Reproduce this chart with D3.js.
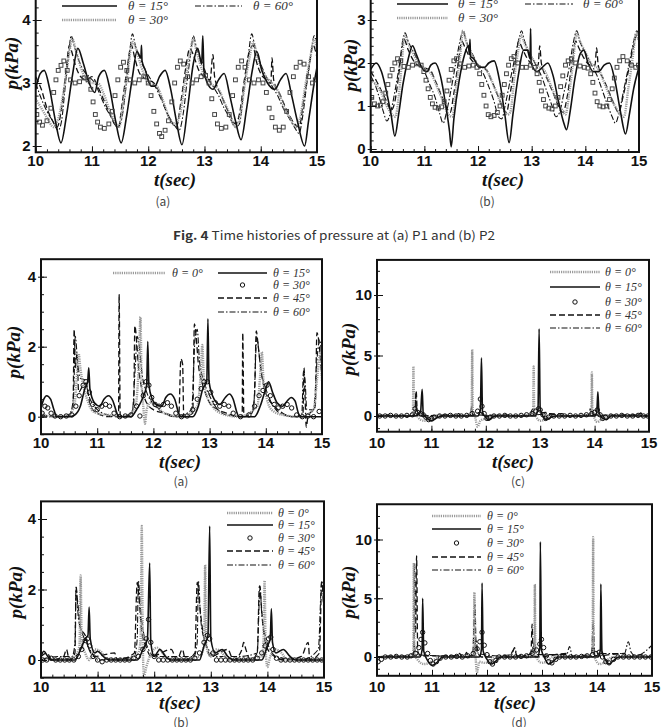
<!DOCTYPE html>
<html>
<head>
<meta charset="utf-8">
<script src="https://cdn.jsdelivr.net/npm/d3@7"></script>
<style>
  body { margin: 0; background: #fff; }
  svg { display: block; }
</style>
</head>
<body>
<svg width="669" height="727"></svg>
<script>
// ---------- data ----------

// Fig. 4 (a) pressure at P1
let p1_deg0 = [[10.02,2.5],[10.07,2.38],[10.12,2.33],[10.2,2.4],[10.27,2.6],[10.32,2.85],[10.36,3.05],[10.4,3.2],[10.45,3.28],[10.5,3.35],[10.56,3.2],[10.62,3.05],[10.7,3.0],[10.78,3.02],[10.86,3.08],[10.93,3.05],[10.98,2.9],[11.02,2.7],[11.06,2.5],[11.1,2.38],[11.15,2.3],[11.22,2.28],[11.3,2.35],[11.36,2.55],[11.41,2.8],[11.46,3.05],[11.51,3.25],[11.56,3.33],[11.62,3.2],[11.68,3.05],[11.76,3.0],[11.84,3.05],[11.92,3.1],[12.0,3.0],[12.05,2.8],[12.1,2.55],[12.15,2.35],[12.2,2.2],[12.24,2.15],[12.3,2.25],[12.36,2.4],[12.42,2.7],[12.47,3.0],[12.52,3.25],[12.57,3.35],[12.63,3.3],[12.7,3.1],[12.78,3.0],[12.86,3.05],[12.94,3.1],[13.02,3.12],[13.08,3.0],[13.13,2.75],[13.18,2.5],[13.23,2.35],[13.3,2.28],[13.38,2.3],[13.44,2.5],[13.5,2.8],[13.55,3.05],[13.6,3.25],[13.66,3.35],[13.72,3.25],[13.8,3.05],[13.88,3.0],[13.96,3.05],[14.04,3.0],[14.1,2.85],[14.15,2.6],[14.2,2.45],[14.26,2.3],[14.33,2.25],[14.4,2.3],[14.46,2.55],[14.52,2.85],[14.58,3.1],[14.63,3.25],[14.7,3.33],[14.77,3.3],[14.85,3.1],[14.92,3.0],[14.97,3.05]];
let p1_deg15 = [[10.0,2.9],[10.08,3.15],[10.15,3.2],[10.25,2.9],[10.35,2.4],[10.45,2.05],[10.55,2.5],[10.65,3.1],[10.75,3.55],[10.85,3.3],[10.95,3.0],[11.05,2.85],[11.12,3.1],[11.22,3.2],[11.32,2.9],[11.42,2.4],[11.52,2.05],[11.62,2.5],[11.72,3.1],[11.8,3.5],[11.87,3.4],[11.88,3.6],[11.89,3.35],[11.95,3.2],[12.05,2.95],[12.12,2.95],[12.2,3.1],[12.3,3.2],[12.4,2.9],[12.5,2.4],[12.6,2.02],[12.7,2.6],[12.8,3.3],[12.88,3.55],[12.95,3.3],[12.97,3.75],[12.99,3.2],[13.05,3.0],[13.15,2.9],[13.25,3.05],[13.35,3.15],[13.45,2.8],[13.55,2.4],[13.65,2.1],[13.75,2.6],[13.85,3.2],[13.93,3.5],[14.02,3.2],[14.12,3.0],[14.25,2.9],[14.35,3.05],[14.45,3.15],[14.55,2.8],[14.65,2.4],[14.78,2.0],[14.85,2.4],[14.95,3.0],[15.0,3.25]];
let p1_deg30 = [[10.0,2.75],[10.1,2.6],[10.2,2.45],[10.32,2.3],[10.42,2.5],[10.52,3.0],[10.6,3.5],[10.65,3.7],[10.72,3.5],[10.82,3.2],[10.95,3.0],[11.1,3.0],[11.2,2.85],[11.3,2.6],[11.4,2.4],[11.48,2.3],[11.56,2.7],[11.64,3.2],[11.72,3.65],[11.78,3.55],[11.88,3.25],[12.0,3.0],[12.15,2.95],[12.25,2.75],[12.35,2.5],[12.45,2.35],[12.55,2.45],[12.65,3.0],[12.74,3.45],[12.8,3.7],[12.86,3.5],[12.96,3.2],[13.1,3.0],[13.25,2.9],[13.35,2.7],[13.45,2.5],[13.55,2.3],[13.63,2.45],[13.72,3.0],[13.8,3.4],[13.87,3.65],[13.93,3.45],[14.05,3.15],[14.2,3.0],[14.32,2.85],[14.42,2.6],[14.52,2.45],[14.62,2.3],[14.7,2.45],[14.8,3.0],[14.88,3.4],[14.95,3.7],[15.0,3.5]];
let p1_deg45 = [[10.0,3.1],[10.1,2.9],[10.2,2.6],[10.3,2.4],[10.38,2.3],[10.46,2.6],[10.54,3.2],[10.6,3.6],[10.64,3.5],[10.7,3.3],[10.8,3.1],[10.9,3.05],[11.0,3.1],[11.1,2.95],[11.2,2.75],[11.3,2.55],[11.4,2.35],[11.47,2.3],[11.54,2.7],[11.62,3.2],[11.7,3.6],[11.76,3.4],[11.85,3.15],[12.0,3.05],[12.1,3.0],[12.2,2.85],[12.3,2.6],[12.4,2.4],[12.5,2.3],[12.58,2.7],[12.66,3.2],[12.74,3.55],[12.8,3.45],[12.9,3.2],[13.0,3.1],[13.1,3.05],[13.15,3.45],[13.18,3.1],[13.3,2.8],[13.45,2.5],[13.55,2.35],[13.62,2.5],[13.7,3.0],[13.8,3.5],[13.86,3.6],[13.92,3.35],[14.0,3.15],[14.1,3.05],[14.18,3.0],[14.2,3.4],[14.23,3.05],[14.35,2.8],[14.5,2.5],[14.6,2.35],[14.68,2.3],[14.76,2.7],[14.85,3.2],[14.93,3.6],[15.0,3.4]];
let p1_deg60 = [[10.0,3.0],[10.1,2.75],[10.2,2.55],[10.3,2.4],[10.4,2.25],[10.46,2.4],[10.52,2.9],[10.58,3.4],[10.63,3.75],[10.68,3.6],[10.75,3.4],[10.85,3.2],[10.95,3.1],[11.05,3.0],[11.15,2.8],[11.25,2.6],[11.35,2.45],[11.45,2.3],[11.52,2.4],[11.6,2.9],[11.66,3.4],[11.72,3.78],[11.77,3.6],[11.85,3.4],[11.95,3.2],[12.05,3.05],[12.15,2.9],[12.25,2.7],[12.35,2.5],[12.45,2.35],[12.55,2.25],[12.62,2.5],[12.7,3.1],[12.76,3.5],[12.8,3.75],[12.86,3.55],[12.95,3.35],[13.05,3.1],[13.15,2.95],[13.25,2.8],[13.35,2.6],[13.45,2.45],[13.55,2.3],[13.62,2.35],[13.7,2.9],[13.78,3.45],[13.84,3.78],[13.9,3.55],[14.0,3.3],[14.1,3.1],[14.2,2.95],[14.3,2.8],[14.4,2.6],[14.5,2.45],[14.6,2.3],[14.68,2.2],[14.75,2.5],[14.82,3.0],[14.9,3.5],[14.95,3.75],[15.0,3.6]];

// Fig. 4 (b) pressure at P2
let p2_deg0 = [[10.02,1.2],[10.07,1.05],[10.13,1.0],[10.18,1.02],[10.23,1.1],[10.28,1.3],[10.32,1.5],[10.36,1.7],[10.4,1.85],[10.45,2.0],[10.5,2.1],[10.56,2.05],[10.62,1.92],[10.7,1.9],[10.78,1.95],[10.86,1.98],[10.94,1.95],[10.99,1.8],[11.03,1.6],[11.07,1.4],[11.11,1.2],[11.15,1.05],[11.2,0.97],[11.26,0.95],[11.32,0.98],[11.37,1.1],[11.42,1.35],[11.46,1.6],[11.5,1.85],[11.55,2.05],[11.6,2.1],[11.67,1.98],[11.75,1.9],[11.83,1.93],[11.91,1.95],[11.98,1.9],[12.03,1.75],[12.07,1.5],[12.11,1.25],[12.15,1.0],[12.19,0.8],[12.24,0.75],[12.3,0.78],[12.36,0.85],[12.41,1.0],[12.45,1.25],[12.49,1.5],[12.53,1.75],[12.57,1.95],[12.62,2.1],[12.67,2.15],[12.74,2.0],[12.82,1.9],[12.9,1.9],[12.98,1.95],[13.05,1.9],[13.1,1.75],[13.14,1.55],[13.18,1.35],[13.22,1.15],[13.26,1.0],[13.32,0.95],[13.38,0.93],[13.44,1.0],[13.49,1.2],[13.54,1.45],[13.58,1.7],[13.63,1.95],[13.68,2.05],[13.74,2.1],[13.82,2.0],[13.9,1.93],[13.98,1.9],[14.05,1.88],[14.1,1.75],[14.14,1.55],[14.18,1.3],[14.22,1.1],[14.27,1.0],[14.33,0.98],[14.4,1.0],[14.45,1.15],[14.5,1.4],[14.54,1.65],[14.59,1.9],[14.64,2.05],[14.7,2.15],[14.78,2.05],[14.86,1.95],[14.94,1.9],[14.99,1.95]];
let p2_deg15 = [[10.0,1.85],[10.1,2.0],[10.2,1.8],[10.3,1.3],[10.38,0.8],[10.45,0.3],[10.52,0.8],[10.6,1.5],[10.7,2.1],[10.78,2.4],[10.85,2.2],[10.95,1.9],[11.05,1.8],[11.12,1.95],[11.2,2.0],[11.3,1.7],[11.4,1.0],[11.47,0.4],[11.5,0.05],[11.55,0.7],[11.65,1.6],[11.75,2.2],[11.82,2.4],[11.84,2.2],[11.85,2.55],[11.86,2.15],[11.92,2.1],[12.02,1.9],[12.12,1.9],[12.2,2.0],[12.3,2.05],[12.4,1.6],[12.5,0.8],[12.58,0.15],[12.65,0.8],[12.75,1.7],[12.85,2.3],[12.92,2.3],[12.97,2.1],[12.98,2.8],[12.99,2.0],[13.1,1.8],[13.2,1.9],[13.3,2.0],[13.4,1.7],[13.5,1.1],[13.6,0.6],[13.65,0.45],[13.72,0.9],[13.8,1.6],[13.9,2.2],[13.97,2.3],[14.05,2.0],[14.15,1.8],[14.25,1.8],[14.35,1.95],[14.45,2.0],[14.55,1.6],[14.65,0.9],[14.75,0.35],[14.82,0.8],[14.9,1.4],[15.0,1.9]];
let p2_deg30 = [[10.0,1.6],[10.1,1.5],[10.2,1.3],[10.3,1.0],[10.4,0.8],[10.46,0.75],[10.52,1.2],[10.58,2.0],[10.63,2.65],[10.7,2.45],[10.8,2.2],[10.92,1.95],[11.05,1.85],[11.15,1.7],[11.25,1.4],[11.35,1.1],[11.45,0.8],[11.52,0.75],[11.6,1.5],[11.67,2.2],[11.72,2.75],[11.78,2.5],[11.88,2.2],[12.0,1.95],[12.15,1.85],[12.25,1.6],[12.35,1.3],[12.45,1.0],[12.55,0.8],[12.6,0.85],[12.68,1.7],[12.75,2.3],[12.8,2.65],[12.87,2.45],[12.97,2.2],[13.1,1.95],[13.25,1.8],[13.35,1.5],[13.45,1.2],[13.55,0.95],[13.63,0.8],[13.7,1.3],[13.77,2.0],[13.84,2.7],[13.9,2.5],[14.0,2.25],[14.1,2.0],[14.25,1.85],[14.35,1.55],[14.45,1.25],[14.55,1.0],[14.65,0.8],[14.72,0.75],[14.8,1.4],[14.88,2.1],[14.95,2.7],[15.0,2.5]];
let p2_deg45 = [[10.0,1.8],[10.1,1.6],[10.2,1.35],[10.3,1.1],[10.38,0.9],[10.45,1.1],[10.52,1.7],[10.58,2.3],[10.62,2.55],[10.7,2.3],[10.8,2.05],[10.95,1.9],[11.1,1.85],[11.2,1.6],[11.3,1.3],[11.4,1.0],[11.48,0.85],[11.55,1.3],[11.63,2.0],[11.7,2.5],[11.76,2.35],[11.86,2.1],[12.0,1.95],[12.15,1.85],[12.25,1.6],[12.35,1.3],[12.45,1.0],[12.53,0.85],[12.6,1.3],[12.68,1.9],[12.76,2.5],[12.82,2.35],[12.92,2.1],[13.05,1.95],[13.12,1.95],[13.15,2.4],[13.18,2.0],[13.3,1.6],[13.4,1.3],[13.5,1.0],[13.58,0.85],[13.66,1.2],[13.74,1.9],[13.82,2.5],[13.88,2.35],[13.98,2.1],[14.1,1.95],[14.18,1.95],[14.21,2.35],[14.24,1.95],[14.35,1.6],[14.45,1.3],[14.55,1.0],[14.62,0.85],[14.7,1.2],[14.8,1.8],[14.9,2.4],[14.96,2.65],[15.0,2.5]];
let p2_deg60 = [[10.0,1.7],[10.08,1.5],[10.16,1.2],[10.24,0.85],[10.3,0.65],[10.38,0.9],[10.46,1.4],[10.54,2.0],[10.6,2.55],[10.64,2.7],[10.7,2.5],[10.8,2.25],[10.9,2.0],[11.0,1.8],[11.1,1.5],[11.2,1.2],[11.28,0.85],[11.35,0.6],[11.42,0.9],[11.5,1.4],[11.6,2.1],[11.68,2.6],[11.72,2.75],[11.78,2.5],[11.88,2.25],[12.0,1.95],[12.1,1.75],[12.2,1.45],[12.3,1.1],[12.38,0.75],[12.44,0.7],[12.52,1.1],[12.6,1.6],[12.7,2.2],[12.77,2.6],[12.81,2.75],[12.87,2.5],[12.97,2.2],[13.08,1.95],[13.18,1.7],[13.28,1.35],[13.38,1.0],[13.45,0.75],[13.52,0.85],[13.6,1.3],[13.7,1.9],[13.78,2.5],[13.84,2.75],[13.9,2.5],[14.0,2.25],[14.12,1.95],[14.22,1.7],[14.32,1.35],[14.42,1.0],[14.5,0.75],[14.56,0.6],[14.63,0.85],[14.72,1.4],[14.82,2.0],[14.9,2.5],[14.96,2.75],[15.0,2.6]];

// lower figure (a)
let qa_deg0 = [[10.0,0.1],[10.2,0.0],[10.5,0.05],[10.6,0.4],[10.64,1.2],[10.67,1.8],[10.7,1.4],[10.75,0.9],[10.82,0.5],[10.9,0.2],[11.0,0.1],[11.2,0.05],[11.5,0.0],[11.68,0.3],[11.74,1.5],[11.77,2.85],[11.79,1.0],[11.82,0.3],[11.85,-0.2],[11.88,0.2],[11.95,0.4],[12.05,0.3],[12.2,0.1],[12.5,0.0],[12.78,0.3],[12.84,1.2],[12.87,2.05],[12.9,1.0],[12.95,0.6],[13.05,0.3],[13.2,0.1],[13.5,0.0],[13.85,0.3],[13.9,1.2],[13.93,1.85],[13.96,1.0],[14.02,0.5],[14.1,0.2],[14.3,0.05],[14.6,0.0],[14.85,0.2],[14.92,1.2],[14.97,1.8],[15.0,1.0]];
let qa_deg15 = [[10.0,0.25],[10.05,0.5],[10.1,0.6],[10.17,0.5],[10.23,0.2],[10.28,0.0],[10.5,0.0],[10.6,0.05],[10.7,0.3],[10.78,0.8],[10.83,1.0],[10.85,1.4],[10.87,0.8],[10.95,0.4],[11.05,0.3],[11.12,0.5],[11.2,0.6],[11.28,0.45],[11.34,0.15],[11.38,0.0],[11.6,0.0],[11.7,0.2],[11.8,0.5],[11.88,0.9],[11.9,2.15],[11.92,0.9],[11.98,0.5],[12.05,0.35],[12.15,0.3],[12.22,0.55],[12.3,0.65],[12.38,0.5],[12.44,0.15],[12.48,0.0],[12.7,0.0],[12.8,0.3],[12.88,0.8],[12.95,1.0],[12.97,2.8],[12.99,1.0],[13.08,0.5],[13.18,0.35],[13.28,0.55],[13.35,0.65],[13.42,0.5],[13.48,0.15],[13.52,0.0],[13.8,0.0],[13.9,0.3],[14.0,0.8],[14.05,1.0],[14.12,0.7],[14.2,0.4],[14.3,0.3],[14.38,0.45],[14.45,0.55],[14.52,0.45],[14.58,0.1],[14.62,0.0],[15.0,0.0]];
let qa_deg30 = [[10.02,0.1],[10.07,0.3],[10.12,0.25],[10.18,0.1],[10.25,0.02],[10.35,0.0],[10.45,0.02],[10.55,0.05],[10.62,0.3],[10.68,0.6],[10.75,0.9],[10.8,1.0],[10.86,0.7],[10.92,0.35],[11.0,0.2],[11.08,0.3],[11.15,0.35],[11.22,0.3],[11.3,0.1],[11.4,0.0],[11.5,0.02],[11.6,0.05],[11.7,0.3],[11.76,0.02],[11.82,0.6],[11.87,1.0],[11.92,0.9],[11.97,0.55],[12.03,0.35],[12.1,0.3],[12.18,0.35],[12.25,0.4],[12.32,0.3],[12.4,0.1],[12.5,0.0],[12.6,0.02],[12.7,0.2],[12.78,0.5],[12.85,0.8],[12.9,1.0],[12.96,1.0],[13.02,0.7],[13.1,0.4],[13.18,0.3],[13.26,0.35],[13.34,0.3],[13.42,0.1],[13.55,0.0],[13.7,0.05],[13.8,0.3],[13.88,0.6],[13.95,0.75],[14.02,0.9],[14.08,0.6],[14.15,0.35],[14.22,0.25],[14.3,0.3],[14.38,0.35],[14.46,0.25],[14.55,0.05],[14.65,0.0],[14.75,0.02],[14.85,0.0],[14.95,0.15]];
let qa_deg45 = [[10.0,0.05],[10.3,0.0],[10.5,0.05],[10.57,0.3],[10.59,2.5],[10.61,1.4],[10.64,1.8],[10.67,0.7],[10.75,0.9],[10.8,0.95],[10.88,0.3],[11.0,0.1],[11.2,0.0],[11.38,0.0],[11.39,3.5],[11.41,0.0],[11.6,0.05],[11.65,0.4],[11.67,2.6],[11.7,2.2],[11.73,1.5],[11.78,0.9],[11.85,0.5],[11.92,0.3],[12.0,0.2],[12.2,0.1],[12.45,0.0],[12.49,1.65],[12.52,1.5],[12.54,0.0],[12.7,0.1],[12.73,2.65],[12.76,2.3],[12.8,1.5],[12.86,1.0],[12.92,0.7],[13.0,0.4],[13.15,0.2],[13.3,0.1],[13.5,0.0],[13.58,0.0],[13.59,2.4],[13.61,0.0],[13.75,0.1],[13.8,0.6],[13.83,2.45],[13.86,2.1],[13.9,1.5],[13.96,0.9],[14.05,0.5],[14.15,0.3],[14.3,0.1],[14.5,0.0],[14.66,0.0],[14.68,1.4],[14.7,0.5],[14.72,-0.3],[14.75,0.0],[14.88,0.3],[14.91,2.4],[14.94,2.2],[14.97,1.7],[15.0,1.0]];
let qa_deg60 = [[10.0,0.0],[10.4,0.0],[10.52,0.1],[10.58,0.6],[10.61,2.3],[10.65,1.6],[10.7,1.1],[10.78,1.05],[10.85,0.6],[10.95,0.3],[11.1,0.1],[11.4,0.0],[11.62,0.1],[11.68,1.5],[11.71,2.3],[11.75,2.0],[11.8,1.2],[11.88,0.7],[11.98,0.4],[12.1,0.2],[12.4,0.0],[12.68,0.2],[12.74,2.2],[12.78,2.5],[12.82,1.6],[12.9,1.0],[13.0,0.6],[13.1,0.3],[13.3,0.05],[13.6,0.0],[13.78,0.2],[13.84,2.3],[13.88,1.8],[13.93,1.2],[14.0,0.8],[14.1,0.4],[14.25,0.1],[14.5,0.0],[14.64,0.05],[14.67,1.3],[14.7,1.0],[14.73,0.2],[14.85,0.2],[14.92,1.8],[14.96,2.2],[15.0,1.6]];

// lower figure (c)
let qc_deg0 = [[10.0,0.0],[10.3,0.0],[10.6,0.05],[10.66,0.3],[10.67,4.1],[10.68,0.3],[10.72,0.1],[10.8,-0.3],[10.9,-0.4],[10.98,-0.2],[11.1,0.0],[11.5,0.0],[11.7,0.1],[11.74,0.6],[11.75,5.5],[11.76,0.5],[11.8,0.0],[11.85,-0.9],[11.9,-0.4],[12.0,-0.2],[12.1,0.0],[12.5,0.0],[12.8,0.1],[12.87,0.3],[12.88,4.1],[12.89,0.3],[12.93,-0.1],[13.0,-0.4],[13.08,-0.3],[13.2,0.0],[13.6,0.0],[13.9,0.1],[13.94,0.4],[13.95,3.6],[13.96,0.4],[14.0,-0.2],[14.05,-0.5],[14.12,-0.3],[14.25,0.0],[15.0,0.0]];
let qc_deg15 = [[10.0,0.0],[10.7,0.0],[10.8,0.3],[10.83,2.2],[10.85,0.2],[10.92,-0.2],[11.0,-0.4],[11.08,-0.2],[11.2,0.0],[11.85,0.0],[11.9,0.5],[11.92,4.8],[11.94,0.3],[12.0,-0.1],[12.05,-0.35],[12.12,-0.1],[12.2,0.0],[12.9,0.0],[12.96,0.6],[12.98,7.2],[13.0,0.6],[13.06,-0.1],[13.12,-0.3],[13.2,-0.1],[13.3,0.0],[14.0,0.0],[14.04,0.3],[14.06,2.0],[14.08,0.3],[14.15,-0.2],[14.22,-0.3],[14.3,0.0],[15.0,0.0]];
let qc_deg30 = [[10.05,0.0],[10.15,0.0],[10.25,0.05],[10.35,0.0],[10.45,0.0],[10.55,0.05],[10.65,0.1],[10.7,0.6],[10.75,0.3],[10.8,0.2],[10.85,0.1],[10.9,-0.1],[10.95,-0.3],[11.0,-0.2],[11.05,-0.1],[11.15,0.0],[11.25,0.0],[11.35,0.05],[11.45,0.0],[11.55,0.0],[11.65,0.05],[11.75,0.2],[11.85,0.4],[11.9,1.4],[11.93,0.8],[11.97,0.2],[12.02,-0.2],[12.08,-0.1],[12.15,0.0],[12.25,0.0],[12.35,0.05],[12.45,0.0],[12.55,0.0],[12.65,0.05],[12.75,0.1],[12.85,0.2],[12.92,0.4],[12.97,0.6],[13.0,0.5],[13.05,0.1],[13.1,-0.2],[13.15,-0.1],[13.25,0.0],[13.35,0.0],[13.45,0.0],[13.55,0.05],[13.65,0.0],[13.75,0.05],[13.85,0.1],[13.95,0.2],[14.0,0.3],[14.05,0.5],[14.1,0.1],[14.15,-0.2],[14.2,-0.1],[14.3,0.0],[14.4,0.0],[14.5,0.05],[14.6,0.0],[14.7,0.0],[14.8,0.05],[14.9,0.0],[14.98,0.0]];
let qc_deg45 = [[10.0,0.0],[10.2,0.1],[10.3,0.0],[10.65,0.0],[10.7,0.3],[10.72,2.1],[10.74,0.4],[10.8,0.0],[11.4,0.05],[11.5,0.2],[11.55,0.0],[11.72,0.1],[11.74,0.8],[11.76,0.1],[11.9,0.3],[12.0,0.0],[12.4,0.1],[12.5,0.0],[12.82,0.1],[12.85,0.5],[12.88,0.1],[13.1,0.3],[13.2,0.1],[13.4,0.2],[13.5,0.0],[13.9,0.1],[13.92,0.6],[13.95,0.1],[14.5,0.05],[14.8,0.1],[14.85,0.25],[14.9,0.0],[15.0,0.0]];
let qc_deg60 = [[10.0,0.0],[10.4,0.05],[10.6,0.0],[10.7,0.2],[10.71,1.8],[10.73,0.3],[10.8,0.0],[11.3,0.1],[11.6,0.0],[11.72,0.1],[11.74,0.6],[11.76,0.1],[12.2,0.05],[12.6,0.0],[12.84,0.1],[12.86,0.6],[12.9,0.1],[13.2,0.2],[13.4,0.0],[13.92,0.1],[13.94,0.5],[13.97,0.0],[14.6,0.1],[15.0,0.0]];

// lower figure (b)
let qb_deg0 = [[10.0,0.05],[10.3,0.0],[10.6,0.1],[10.68,0.4],[10.7,2.4],[10.72,0.5],[10.78,0.2],[10.85,0.0],[10.95,0.3],[11.05,0.25],[11.15,0.05],[11.5,0.0],[11.72,0.2],[11.76,0.6],[11.78,3.8],[11.8,0.3],[11.82,-0.45],[11.86,-0.2],[11.95,0.2],[12.05,0.35],[12.15,0.2],[12.3,0.0],[12.8,0.1],[12.88,0.4],[12.9,2.7],[12.92,0.4],[13.0,0.1],[13.1,0.3],[13.2,0.2],[13.3,0.0],[13.9,0.1],[13.93,0.5],[13.95,2.25],[13.97,0.3],[14.0,-0.2],[14.05,0.1],[14.15,0.3],[14.25,0.2],[14.35,0.0],[15.0,0.0]];
let qb_deg15 = [[10.0,0.1],[10.05,0.25],[10.12,0.1],[10.2,0.0],[10.6,0.0],[10.7,0.3],[10.78,0.6],[10.83,0.7],[10.85,1.5],[10.87,0.6],[10.95,0.2],[11.0,0.25],[11.1,0.1],[11.2,0.0],[11.7,0.0],[11.8,0.3],[11.88,0.6],[11.92,2.75],[11.94,0.5],[12.0,0.1],[12.1,0.3],[12.2,0.1],[12.3,0.0],[12.8,0.0],[12.88,0.4],[12.95,0.7],[12.98,3.8],[13.0,0.6],[13.08,0.2],[13.2,0.3],[13.3,0.1],[13.4,0.0],[13.9,0.0],[14.0,0.4],[14.05,0.6],[14.07,1.45],[14.09,0.5],[14.15,0.2],[14.28,0.3],[14.4,0.1],[14.5,0.0],[15.0,0.0]];
let qb_deg30 = [[10.03,0.0],[10.1,0.0],[10.18,0.05],[10.26,0.0],[10.34,0.0],[10.42,0.0],[10.5,0.0],[10.58,0.0],[10.66,0.1],[10.72,0.3],[10.78,0.55],[10.82,0.6],[10.86,0.4],[10.92,0.1],[11.0,0.0],[11.08,-0.05],[11.16,0.0],[11.24,0.0],[11.32,0.0],[11.4,0.0],[11.48,0.0],[11.56,0.0],[11.64,0.05],[11.72,0.1],[11.8,0.3],[11.86,0.6],[11.9,1.15],[11.94,0.5],[12.0,0.1],[12.08,0.0],[12.16,0.0],[12.24,0.0],[12.32,0.0],[12.4,0.0],[12.48,0.0],[12.56,0.0],[12.64,0.0],[12.72,0.05],[12.8,0.2],[12.88,0.5],[12.94,0.7],[12.98,0.6],[13.04,0.2],[13.1,0.0],[13.18,0.0],[13.26,0.0],[13.34,0.0],[13.42,0.0],[13.5,0.0],[13.58,0.0],[13.66,0.0],[13.74,0.0],[13.82,0.05],[13.9,0.2],[13.96,0.4],[14.02,0.6],[14.06,0.65],[14.1,0.3],[14.16,0.05],[14.24,0.0],[14.32,0.0],[14.4,0.0],[14.48,0.0],[14.56,0.0],[14.64,0.0],[14.72,0.0],[14.8,0.0],[14.88,0.0],[14.96,0.0]];
let qb_deg45 = [[10.0,0.1],[10.1,0.2],[10.2,0.0],[10.4,0.1],[10.45,0.3],[10.5,0.0],[10.6,0.2],[10.62,2.0],[10.65,1.6],[10.7,0.9],[10.78,0.7],[10.85,0.3],[10.95,0.1],[11.3,0.2],[11.35,0.0],[11.65,0.2],[11.7,2.2],[11.73,1.8],[11.78,0.8],[11.85,0.4],[11.95,0.1],[12.3,0.3],[12.4,0.0],[12.5,0.3],[12.55,0.0],[12.72,0.2],[12.76,2.2],[12.8,1.6],[12.86,0.8],[12.92,0.4],[13.0,0.1],[13.3,0.3],[13.4,0.0],[13.55,0.3],[13.58,0.5],[13.62,0.3],[13.7,0.0],[13.82,0.2],[13.86,2.1],[13.9,1.4],[13.95,0.6],[14.05,0.2],[14.3,0.0],[14.6,0.1],[14.72,0.5],[14.75,0.0],[14.92,0.2],[14.96,2.2],[15.0,1.4]];
let qb_deg60 = [[10.0,0.0],[10.3,0.1],[10.55,0.1],[10.6,0.5],[10.62,2.1],[10.66,1.2],[10.72,0.8],[10.8,0.5],[10.9,0.2],[11.0,0.0],[11.65,0.1],[11.7,0.6],[11.72,2.25],[11.76,1.4],[11.82,0.7],[11.9,0.3],[12.0,0.1],[12.7,0.1],[12.76,0.5],[12.78,2.25],[12.82,1.2],[12.88,0.6],[12.96,0.3],[13.05,0.1],[13.5,0.1],[13.82,0.2],[13.87,2.1],[13.9,1.3],[13.96,0.7],[14.05,0.3],[14.15,0.1],[14.6,0.0],[14.9,0.3],[14.96,2.25],[15.0,1.2]];

// lower figure (d)
let qd_deg0 = [[10.0,-0.3],[10.1,0.0],[10.6,0.0],[10.66,0.3],[10.67,8.0],[10.68,0.3],[10.75,-0.3],[10.85,-0.6],[10.95,-0.5],[11.05,-0.2],[11.15,0.0],[11.7,0.0],[11.76,0.5],[11.77,5.5],[11.79,0.3],[11.82,-1.3],[11.86,-0.4],[11.95,-0.5],[12.05,-0.4],[12.15,0.0],[12.8,0.0],[12.86,0.5],[12.87,6.2],[12.88,0.4],[12.92,-0.2],[13.0,-0.5],[13.08,-0.4],[13.2,0.0],[13.85,0.0],[13.92,0.5],[13.93,10.2],[13.94,0.5],[13.98,-0.3],[14.05,-0.6],[14.12,-0.5],[14.2,-0.2],[14.3,0.0],[15.0,0.0]];
let qd_deg15 = [[10.0,0.0],[10.78,0.0],[10.82,0.6],[10.83,5.0],[10.85,0.5],[10.92,-0.3],[11.0,-0.7],[11.08,-0.5],[11.2,0.0],[11.86,0.0],[11.9,0.7],[11.91,6.3],[11.93,0.5],[12.0,-0.2],[12.08,-0.6],[12.15,-0.4],[12.25,0.0],[12.92,0.0],[12.96,0.8],[12.97,9.8],[12.99,0.6],[13.05,-0.1],[13.12,-0.6],[13.2,-0.4],[13.3,0.0],[14.02,0.0],[14.06,0.6],[14.07,6.2],[14.09,0.5],[14.15,-0.2],[14.22,-0.6],[14.3,-0.3],[14.4,0.0],[15.0,0.0]];
let qd_deg30 = [[10.02,-0.4],[10.08,-0.2],[10.15,0.0],[10.25,0.0],[10.35,0.05],[10.45,0.0],[10.55,0.0],[10.62,0.1],[10.7,0.3],[10.76,0.8],[10.8,1.5],[10.83,2.1],[10.87,1.2],[10.92,0.3],[10.97,-0.3],[11.02,-0.6],[11.08,-0.4],[11.15,-0.1],[11.25,0.0],[11.35,0.0],[11.45,0.05],[11.55,0.0],[11.65,0.1],[11.75,0.3],[11.82,0.7],[11.87,1.3],[11.91,2.1],[11.95,1.0],[12.0,0.2],[12.05,-0.4],[12.1,-0.6],[12.16,-0.3],[12.22,0.0],[12.32,0.0],[12.42,0.0],[12.52,0.0],[12.62,0.05],[12.72,0.1],[12.82,0.3],[12.9,0.6],[12.96,1.1],[12.99,1.5],[13.03,0.8],[13.08,0.1],[13.12,-0.4],[13.18,-0.5],[13.25,-0.2],[13.32,0.0],[13.42,0.0],[13.52,0.0],[13.62,0.0],[13.72,0.05],[13.82,0.1],[13.92,0.2],[13.98,0.3],[14.04,0.4],[14.1,0.0],[14.16,-0.4],[14.22,-0.5],[14.3,-0.2],[14.38,0.0],[14.48,0.0],[14.58,0.0],[14.68,0.0],[14.78,0.0],[14.88,0.0],[14.98,0.0]];
let qd_deg45 = [[10.0,0.0],[10.3,0.1],[10.6,0.0],[10.67,0.3],[10.68,7.9],[10.7,2.0],[10.72,8.6],[10.74,0.5],[10.8,0.1],[11.4,0.1],[11.5,0.3],[11.55,0.0],[11.74,0.2],[11.78,4.5],[11.8,1.0],[11.84,0.3],[11.9,0.0],[12.4,0.0],[12.5,0.7],[12.55,0.0],[12.8,0.3],[12.82,2.8],[12.84,0.3],[12.9,0.0],[13.45,0.3],[13.5,0.0],[13.9,0.1],[13.93,1.0],[13.96,0.1],[14.5,0.3],[14.55,0.0],[14.8,0.2],[14.9,0.0],[15.0,0.1]];
let qd_deg60 = [[10.0,0.0],[10.5,0.1],[10.66,0.3],[10.68,1.0],[10.7,0.2],[11.2,0.1],[11.6,0.2],[11.63,0.4],[11.66,0.0],[11.76,0.3],[11.8,1.5],[11.84,0.3],[12.2,0.1],[12.45,0.2],[12.5,0.8],[12.55,0.1],[12.84,0.3],[12.86,1.4],[12.9,0.2],[13.45,0.2],[13.5,0.9],[13.55,0.1],[13.9,0.2],[13.93,3.0],[13.96,0.3],[14.5,0.3],[14.57,1.3],[14.62,0.4],[14.7,0.1],[15.0,1.0]];

// axis ticks
let xTicks = [10, 11, 12, 13, 14, 15];

// ---------- drawing ----------
let svg = d3.select('svg');

// line styles for each kind of series
let styles = {
    gray:   { stroke: '#9a9a9a', width: 2.4, dash: '1.2,1' },
    solid:  { stroke: '#111', width: 1.6, dash: null },
    dashed: { stroke: '#111', width: 1.3, dash: '6,3' },
    dashdot:{ stroke: '#111', width: 1.1, dash: '6,2,1.5,2' },
    circle: { marker: 'circle' },
    square: { marker: 'square' }
};

let panels = [
    { x0: 35.7, x1: 317, yDom: [2, 4], yRng: [146, 20], yMin: 1.9, yMax: 4.7,
      yTicks: [2, 3, 4], yMinor: 0.2, legSize: 13,
      series: [[p1_deg60, 'dashdot'], [p1_deg45, 'dashed'], [p1_deg30, 'gray'], [p1_deg15, 'solid'], [p1_deg0, 'square']],
      tickY: 161, titleX: 175, titleY: 180, ylabX: 12, ylabY: 63, tag: '(a)', tagX: 163, tagY: 202,
      legend: [{ x1: 62, x2: 117, tx: 128, y: 6, st: 'solid', a: '15' }, { x1: 195, x2: 242, tx: 253, y: 6, st: 'dashdot', a: '60' },
               { x1: 62, x2: 117, tx: 128, y: 20, st: 'gray', a: '30' }] },
    { x0: 370.7, x1: 639, yDom: [0, 3], yRng: [149, 20], yMin: -0.07, yMax: 3.6,
      yTicks: [0, 1, 2, 3], yMinor: 0.2, legSize: 13,
      series: [[p2_deg60, 'dashdot'], [p2_deg45, 'dashed'], [p2_deg30, 'gray'], [p2_deg15, 'solid'], [p2_deg0, 'square']],
      tickY: 161, titleX: 503, titleY: 180, ylabX: 351, ylabY: 65, tag: '(b)', tagX: 487, tagY: 202,
      legend: [{ x1: 397, x2: 448, tx: 458, y: 4, st: 'solid', a: '15' }, { x1: 525, x2: 573, tx: 583, y: 4, st: 'dashdot', a: '60' },
               { x1: 397, x2: 448, tx: 458, y: 18, st: 'gray', a: '30' }] },
    { x0: 41, x1: 322, yDom: [0, 4], yRng: [416.7, 276.7], yMin: -0.5, yMax: 4.5,
      yTicks: [0, 2, 4], yMinor: 0.5, legSize: 12,
      series: [[qa_deg60, 'dashdot'], [qa_deg45, 'dashed'], [qa_deg0, 'gray'], [qa_deg15, 'solid'], [qa_deg30, 'circle']],
      tickY: 443, titleX: 180, titleY: 462, ylabX: 14, ylabY: 352, tag: '(a)', tagX: 181, tagY: 482,
      legend: [{ x1: 113, x2: 165, tx: 172, y: 273, st: 'gray', a: '0' }, { x1: 218, x2: 267, tx: 273, y: 273, st: 'solid', a: '15' },
               { x1: 218, x2: 267, tx: 273, y: 285, st: 'circle', a: '30' }, { x1: 218, x2: 267, tx: 273, y: 298, st: 'dashed', a: '45' },
               { x1: 218, x2: 267, tx: 273, y: 312, st: 'dashdot', a: '60' }] },
    { x0: 377, x1: 649, yDom: [0, 10], yRng: [416, 295], yMin: -1.3, yMax: 12.9,
      yTicks: [0, 5, 10], yMinor: 1, legSize: 12,
      series: [[qc_deg60, 'dashdot'], [qc_deg45, 'dashed'], [qc_deg0, 'gray'], [qc_deg15, 'solid'], [qc_deg30, 'circle']],
      tickY: 443, titleX: 513, titleY: 462, ylabX: 349, ylabY: 349, tag: '(c)', tagX: 518, tagY: 482,
      legend: [{ x1: 550, x2: 600, tx: 605, y: 272, st: 'gray', a: '0' }, { x1: 550, x2: 600, tx: 605, y: 287, st: 'solid', a: '15' },
               { x1: 550, x2: 600, tx: 605, y: 302, st: 'circle', a: '30' }, { x1: 550, x2: 600, tx: 605, y: 315, st: 'dashed', a: '45' },
               { x1: 550, x2: 600, tx: 605, y: 328, st: 'dashdot', a: '60' }] },
    { x0: 41, x1: 324, yDom: [0, 4], yRng: [660, 519], yMin: -0.5, yMax: 4.5,
      yTicks: [0, 2, 4], yMinor: 0.5, legSize: 12,
      series: [[qb_deg60, 'dashdot'], [qb_deg45, 'dashed'], [qb_deg0, 'gray'], [qb_deg15, 'solid'], [qb_deg30, 'circle']],
      tickY: 687, titleX: 180, titleY: 703, ylabX: 16, ylabY: 592, tag: '(b)', tagX: 181, tagY: 723,
      legend: [{ x1: 227, x2: 273, tx: 278, y: 513, st: 'gray', a: '0' }, { x1: 227, x2: 273, tx: 278, y: 525, st: 'solid', a: '15' },
               { x1: 227, x2: 273, tx: 278, y: 538, st: 'circle', a: '30' }, { x1: 227, x2: 273, tx: 278, y: 551, st: 'dashed', a: '45' },
               { x1: 227, x2: 273, tx: 278, y: 565, st: 'dashdot', a: '60' }] },
    { x0: 377, x1: 652, yDom: [0, 10], yRng: [657, 539.5], yMin: -1.6, yMax: 13,
      yTicks: [0, 5, 10], yMinor: 1, legSize: 12,
      series: [[qd_deg60, 'dashdot'], [qd_deg45, 'dashed'], [qd_deg0, 'gray'], [qd_deg15, 'solid'], [qd_deg30, 'circle']],
      tickY: 687, titleX: 515, titleY: 703, ylabX: 349, ylabY: 592, tag: '(d)', tagX: 519, tagY: 723,
      legend: [{ x1: 432, x2: 481, tx: 487, y: 516, st: 'gray', a: '0' }, { x1: 432, x2: 481, tx: 487, y: 529, st: 'solid', a: '15' },
               { x1: 432, x2: 481, tx: 487, y: 543, st: 'circle', a: '30' }, { x1: 432, x2: 481, tx: 487, y: 557, st: 'dashed', a: '45' },
               { x1: 432, x2: 481, tx: 487, y: 570, st: 'dashdot', a: '60' }] }
];

function styleLine(sel, st) {
    sel.attr('fill', 'none')
        .attr('stroke', st.stroke)
        .attr('stroke-width', st.width)
        .attr('stroke-dasharray', st.dash);
}

function drawMarker(g, kind, cx, cy) {
    if (kind === 'circle') {
        g.append('circle').attr('cx', cx).attr('cy', cy).attr('r', 2.2)
            .attr('fill', 'none').attr('stroke', '#111').attr('stroke-width', 1);
    } else {
        g.append('rect').attr('x', cx - 1.9).attr('y', cy - 1.9).attr('width', 3.8).attr('height', 3.8)
            .attr('fill', 'none').attr('stroke', '#444').attr('stroke-width', 1);
    }
}

panels.forEach((p, i) => {
    let x = d3.scaleLinear().domain([10, 15]).range([p.x0, p.x1]);
    let y = d3.scaleLinear().domain(p.yDom).range(p.yRng);
    let top = y(p.yMax), bottom = y(p.yMin);
    let g = svg.append('g');

    // clip to frame
    g.append('clipPath').attr('id', 'clip' + i)
        .append('rect').attr('x', p.x0).attr('y', top).attr('width', p.x1 - p.x0).attr('height', bottom - top);
    let plot = g.append('g').attr('clip-path', 'url(#clip' + i + ')');

    let line = d3.line().x(d => x(d[0])).y(d => y(d[1])).curve(d3.curveMonotoneX);

    p.series.forEach(([data, key]) => {
        let st = styles[key];
        if (st.marker) {
            data.forEach(d => drawMarker(plot, st.marker, x(d[0]), y(d[1])));
        } else {
            plot.append('path').datum(data).attr('d', line).call(styleLine, st);
        }
    });

    // minor ticks
    let xMinor = d3.range(10, 15.001, 0.2);
    g.append('g').attr('transform', 'translate(0,' + bottom + ')')
        .call(d3.axisBottom(x).tickValues(xMinor).tickSize(-3).tickFormat(''))
        .call(a => a.select('.domain').remove());
    let yMinor = d3.range(Math.ceil(p.yMin / p.yMinor) * p.yMinor, p.yMax, p.yMinor);
    g.append('g').attr('transform', 'translate(' + p.x0 + ',0)')
        .call(d3.axisLeft(y).tickValues(yMinor).tickSize(-3).tickFormat(''))
        .call(a => a.select('.domain').remove());

    // major ticks inward
    g.append('g').attr('transform', 'translate(0,' + bottom + ')')
        .call(d3.axisBottom(x).tickValues(xTicks).tickSize(-6).tickFormat(''))
        .call(a => a.select('.domain').remove());
    g.append('g').attr('transform', 'translate(' + p.x0 + ',0)')
        .call(d3.axisLeft(y).tickValues(p.yTicks).tickSize(-6).tickFormat(''))
        .call(a => a.select('.domain').remove());

    // major ticks outward on y, with labels
    let yAx = g.append('g').attr('transform', 'translate(' + p.x0 + ',0)')
        .call(d3.axisLeft(y).tickValues(p.yTicks).tickSize(3).tickPadding(2).tickFormat(d3.format('d')));
    yAx.select('.domain').remove();
    yAx.selectAll('text').attr('font-family', 'Liberation Sans, Arial, sans-serif')
        .attr('font-weight', 'bold').attr('font-size', 15).attr('fill', '#111');

    g.selectAll('.tick line').attr('stroke', '#111').attr('stroke-width', 1);

    // x tick labels
    g.append('g').selectAll('text').data(xTicks).enter().append('text')
        .attr('x', d => x(d)).attr('y', p.tickY + 5)
        .attr('text-anchor', 'middle')
        .attr('font-family', 'Liberation Sans, Arial, sans-serif')
        .attr('font-weight', 'bold').attr('font-size', 15).attr('fill', '#111')
        .text(d => d);

    // frame
    g.append('rect').attr('x', p.x0).attr('y', top).attr('width', p.x1 - p.x0).attr('height', bottom - top)
        .attr('fill', 'none').attr('stroke', '#111').attr('stroke-width', 2);

    // axis titles
    g.append('text').attr('x', p.titleX).attr('y', p.titleY + 6)
        .attr('text-anchor', 'middle')
        .attr('font-family', 'Liberation Serif, Times New Roman, serif')
        .attr('font-weight', 'bold').attr('font-style', 'italic').attr('font-size', 19).attr('fill', '#111')
        .text('t(sec)');
    g.append('text')
        .attr('transform', 'translate(' + (p.ylabX + 6) + ',' + p.ylabY + ')rotate(-90)')
        .attr('text-anchor', 'middle')
        .attr('font-family', 'Liberation Serif, Times New Roman, serif')
        .attr('font-weight', 'bold').attr('font-style', 'italic').attr('font-size', 19).attr('fill', '#111')
        .text('p(kPa)');

    // panel tag
    g.append('text').attr('x', p.tagX).attr('y', p.tagY + 4)
        .attr('text-anchor', 'middle')
        .attr('font-family', 'Noto Sans CJK KR, DejaVu Sans, sans-serif')
        .attr('font-size', 12).attr('fill', '#444')
        .text(p.tag);

    // legend, one text per entry ("θ = 15°")
    p.legend.forEach(l => {
        let st = styles[l.st];
        if (st.marker) {
            drawMarker(g, st.marker, (l.x1 + l.x2) / 2, l.y);
        } else {
            g.append('line').attr('x1', l.x1).attr('x2', l.x2).attr('y1', l.y).attr('y2', l.y).call(styleLine, st);
        }
        g.append('text').attr('x', l.tx).attr('y', l.y + 4)
            .attr('font-family', 'Liberation Serif, Times New Roman, serif')
            .attr('font-style', 'italic')
            .attr('font-size', p.legSize).attr('fill', '#333')
            .text('\u03b8 = ' + l.a + '\u00b0');
    });
});

// caption
let cap = svg.append('text').attr('x', 334).attr('y', 240)
    .attr('text-anchor', 'middle')
    .attr('font-family', 'Noto Sans CJK KR, DejaVu Sans, sans-serif')
    .attr('font-size', 12).attr('fill', '#333')
    .attr('textLength', 322).attr('lengthAdjust', 'spacingAndGlyphs');
cap.append('tspan').attr('font-weight', 'bold').text('Fig. 4');
cap.append('tspan').text(' Time histories of pressure at (a) P1 and (b) P2');
</script>
</body>
</html>
